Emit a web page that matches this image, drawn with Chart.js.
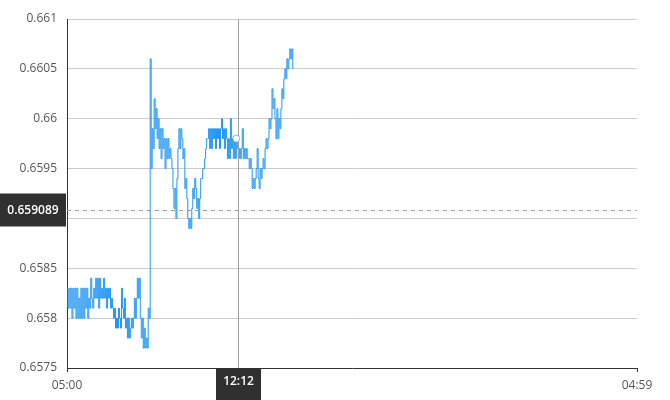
<!DOCTYPE html>
<html>
<head>
<meta charset="utf-8">
<script src="https://cdn.jsdelivr.net/npm/chart.js@4.4.0/dist/chart.umd.min.js"></script>
<style>
  html, body { margin: 0; padding: 0; background: #fff; }
  #wrap { width: 670px; height: 400px; position: relative; }
</style>
</head>
<body>
<div id="wrap"><canvas id="c" width="670" height="400"></canvas></div>
<script>
// Time axis: minutes after 05:00, one sample every 2.5 minutes starting at 05:00
const startMinute = 0;
const sampleStep = 2.5;
const axisMaxMinute = 1439;
const xTickValues = [0, 1439];
const xTickLabels = ['05:00', '04:59'];

const yTickLabels = ['0.6575', '0.658', '0.6585', '0.659', '0.6595', '0.66', '0.6605', '0.661'];

const prices = [
  0.6583, 0.6581, 0.6583, 0.6581, 0.6583, 0.6580, 0.6583, 0.6581, 0.6583, 0.6580,
  0.6583, 0.6580, 0.6582, 0.6580, 0.6583, 0.6580, 0.6583, 0.6580, 0.6583, 0.6581,
  0.6583, 0.6580, 0.6582, 0.6581, 0.6584, 0.6582, 0.6581, 0.6583, 0.6582, 0.6584,
  0.6582, 0.6584, 0.6581, 0.6584, 0.6582, 0.6583, 0.6582, 0.6584, 0.6582, 0.6583,
  0.6581, 0.6583, 0.6582, 0.6583, 0.6581, 0.6582, 0.6581, 0.6580, 0.6581, 0.6579,
  0.6580, 0.6579, 0.6581, 0.6580, 0.6579, 0.6583, 0.6581, 0.6580, 0.6582, 0.6579,
  0.6580, 0.6578, 0.6580, 0.6578, 0.6579, 0.6580, 0.6579, 0.6580, 0.6582, 0.6580,
  0.6582, 0.6584, 0.6582, 0.6584, 0.6580, 0.6578, 0.6580, 0.6577, 0.6579, 0.6577,
  0.6578, 0.6577, 0.6581, 0.6580, 0.6606, 0.6595, 0.6599, 0.6597, 0.6602, 0.6599,
  0.6601, 0.6598, 0.6600, 0.6597, 0.6599, 0.6596, 0.6599, 0.6597, 0.6598, 0.6595,
  0.6598, 0.6596, 0.6598, 0.6596, 0.6597, 0.6596, 0.6595, 0.6593, 0.6591, 0.6593,
  0.6590, 0.6594, 0.6597, 0.6599, 0.6597, 0.6599, 0.6598, 0.6596, 0.6597, 0.6593,
  0.6594, 0.6592, 0.6590, 0.6589, 0.6590, 0.6589, 0.6591, 0.6593, 0.6592, 0.6594,
  0.6593, 0.6591, 0.6592, 0.6590, 0.6592, 0.6594, 0.6594, 0.6595, 0.6595, 0.6596,
  0.6597, 0.6598, 0.6598, 0.6599, 0.6597, 0.6599, 0.6597, 0.6599, 0.6598, 0.6599,
  0.6597, 0.6599, 0.6598, 0.6599, 0.6597, 0.6599, 0.6600, 0.6598, 0.6599, 0.6597,
  0.6599, 0.6598, 0.6596, 0.6598, 0.6596, 0.6600, 0.6597, 0.6598, 0.6596, 0.6598,
  0.6596, 0.6598, 0.6597, 0.6596, 0.6597, 0.6596, 0.6597, 0.6599, 0.6596, 0.6597,
  0.6596, 0.6597, 0.6596, 0.6596, 0.6595, 0.6596, 0.6595, 0.6593, 0.6594, 0.6593,
  0.6594, 0.6595, 0.6597, 0.6594, 0.6593, 0.6595, 0.6594, 0.6595, 0.6596, 0.6595,
  0.6597, 0.6598, 0.6597, 0.6598, 0.6600, 0.6599, 0.6600, 0.6603, 0.6601, 0.6602,
  0.6600, 0.6598, 0.6601, 0.6598, 0.6600, 0.6599, 0.6601, 0.6603, 0.6602, 0.6604,
  0.6605, 0.6604, 0.6606, 0.6605, 0.6606, 0.6607, 0.6606, 0.6607, 0.6605
];

const refLineValue = 0.659089;
const refLineLabel = '0.659089';
const crosshairMinute = 432;
const crosshairLabel = '12:12';
const hoverIndex = 171;

const points = prices.map((p, i) => ({ x: startMinute + i * sampleStep, y: p }));

const overlayPlugin = {
  id: 'overlay',
  afterDatasetsDraw(chart) {
    const { ctx, chartArea, scales } = chart;
    const xs = scales.x, ys = scales.y;
    ctx.save();
    // dashed reference line
    const ry = Math.round(ys.getPixelForValue(refLineValue)) + 0.5;
    ctx.strokeStyle = '#9a9a9a';
    ctx.lineWidth = 1;
    ctx.setLineDash([4, 4]);
    ctx.beginPath();
    ctx.moveTo(chartArea.left, ry);
    ctx.lineTo(chartArea.right, ry);
    ctx.stroke();
    ctx.setLineDash([]);
    // crosshair vertical
    const cx = Math.round(xs.getPixelForValue(crosshairMinute)) + 0.5;
    ctx.strokeStyle = '#a0a0a0';
    ctx.beginPath();
    ctx.moveTo(cx, chartArea.top);
    ctx.lineTo(cx, chartArea.bottom);
    ctx.stroke();
    // hover point
    const hp = points[hoverIndex];
    const hx = xs.getPixelForValue(hp.x), hy = ys.getPixelForValue(hp.y);
    ctx.beginPath();
    ctx.arc(hx, hy, 3.5, 0, Math.PI * 2);
    ctx.fillStyle = '#ffffff';
    ctx.fill();
    ctx.strokeStyle = 'rgba(33,150,243,0.6)';
    ctx.lineWidth = 1;
    ctx.stroke();
    // left value label
    ctx.fillStyle = '#303030';
    ctx.fillRect(0, ry - 17, chartArea.left - 1, 33);
    ctx.fillStyle = '#ffffff';
    ctx.font = '600 12px "Open Sans", sans-serif';
    ctx.textAlign = 'center';
    ctx.textBaseline = 'middle';
    ctx.fillText(refLineLabel, (chartArea.left - 1) / 2, ry);
    // bottom time label
    const bw = 45;
    ctx.fillStyle = '#303030';
    ctx.fillRect(cx - bw / 2, chartArea.bottom, bw, chart.height - chartArea.bottom);
    ctx.fillStyle = '#ffffff';
    ctx.fillText(crosshairLabel, cx, chartArea.bottom + 14);
    ctx.restore();
  }
};

new Chart(document.getElementById('c'), {
  type: 'line',
  data: {
    datasets: [{
      data: points,
      borderColor: 'rgb(33,150,243)',
      borderWidth: 1,
      pointRadius: 0,
      stepped: true,
      fill: false,
      tension: 0
    }]
  },
  options: {
    responsive: false,
    animation: false,
    events: [],
    layout: { padding: { left: 0, top: 19, right: 33, bottom: 0 } },
    plugins: { legend: { display: false }, tooltip: { enabled: false } },
    scales: {
      x: {
        type: 'linear',
        min: 0,
        max: axisMaxMinute,
        afterBuildTicks(scale) { scale.ticks = xTickValues.map(v => ({ value: v })); },
        afterFit(scale) { scale.height = 32; },
        ticks: {
          autoSkip: false,
          maxRotation: 0,
          padding: 6,
          color: '#555',
          font: { family: '"Open Sans", sans-serif', size: 12 },
          callback(value) {
            const idx = xTickValues.indexOf(value);
            return idx >= 0 ? xTickLabels[idx] : '';
          }
        },
        grid: { drawOnChartArea: false, drawTicks: true, tickLength: 4, color: '#333' },
        border: { color: '#333', width: 1 }
      },
      y: {
        min: 0.6575,
        max: 0.661,
        afterBuildTicks(scale) {
          scale.ticks = yTickLabels.map(s => ({ value: parseFloat(s) }));
        },
        afterFit(scale) { scale.width = 67; },
        ticks: {
          padding: 10,
          color: '#555',
          font: { family: '"Open Sans", sans-serif', size: 12 },
          callback(value, index) { return yTickLabels[index]; }
        },
        grid: { color: '#cccccc', drawTicks: false },
        border: { color: '#333', width: 1 }
      }
    }
  },
  plugins: [overlayPlugin]
});
</script>
</body>
</html>
